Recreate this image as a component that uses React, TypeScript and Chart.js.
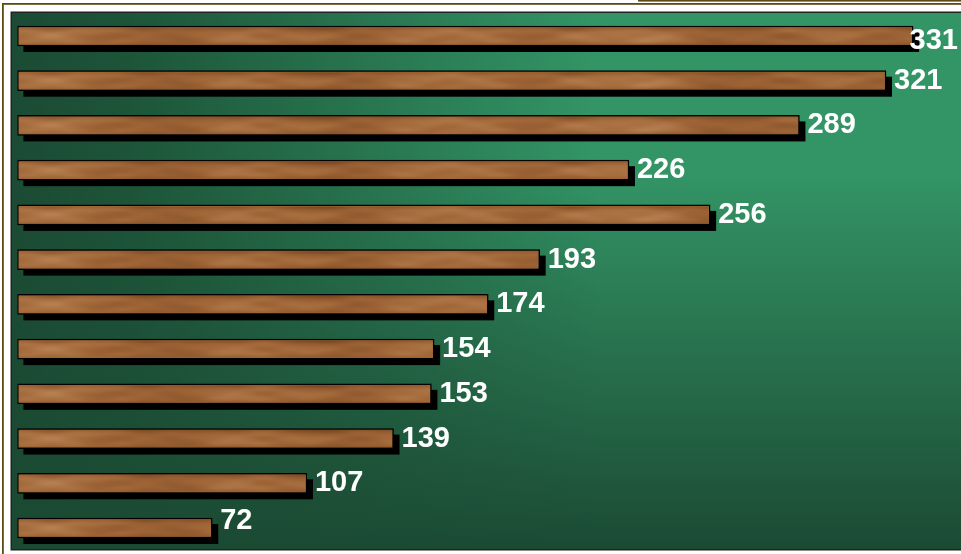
import React, { useEffect, useRef } from "react";
import { Chart, registerables } from "chart.js";

Chart.register(...registerables);

const categories = ["1", "2", "3", "4", "5", "6", "7", "8", "9", "10", "11", "12"];
const values = [331, 321, 289, 226, 256, 193, 174, 154, 153, 139, 107, 72];
const axisMin = 0;
const axisMax = 350;

const CANVAS_W = 975;
const CANVAS_H = 554;

function makeWood(): HTMLCanvasElement {
  const sw = 250, sh = 10;
  const s = document.createElement("canvas");
  s.width = sw;
  s.height = sh;
  const sg = s.getContext("2d")!;
  const img = sg.createImageData(sw, sh);
  const dark = [116, 68, 32];
  const mid = [158, 100, 54];
  const light = [200, 148, 100];
  for (let y = 0; y < sh; y++) {
    for (let x = 0; x < sw; x++) {
      const t = y / (sh - 1);
      const f1 = Math.sin(x * 0.13 + 0.4) * 0.6 + Math.sin(x * 0.047 + 1.9) * 0.4;
      const f2 = Math.sin(x * 0.29 + 2.2) * 0.6 + Math.sin(x * 0.071) * 0.4;
      const f3 = Math.sin(x * 0.53 + 0.7) * 0.5 + Math.sin(x * 0.19 + 3.1) * 0.5;
      let v =
        0.55 +
        0.14 * f1 +
        0.14 * f2 * Math.cos(t * 5.2) +
        0.08 * f3 * Math.sin(t * 9.0 + 0.5);
      if (t < 0.25) v -= 0.3 * (0.25 - t) / 0.25;
      if (t > 0.8) v -= 0.18 * (t - 0.8) / 0.2;
      v = Math.max(0, Math.min(1, v));
      let r, gg, b;
      if (v < 0.5) {
        const k = v / 0.5;
        r = dark[0] + (mid[0] - dark[0]) * k;
        gg = dark[1] + (mid[1] - dark[1]) * k;
        b = dark[2] + (mid[2] - dark[2]) * k;
      } else {
        const k = (v - 0.5) / 0.5;
        r = mid[0] + (light[0] - mid[0]) * k;
        gg = mid[1] + (light[1] - mid[1]) * k;
        b = mid[2] + (light[2] - mid[2]) * k;
      }
      const i = (y * sw + x) * 4;
      img.data[i] = r;
      img.data[i + 1] = gg;
      img.data[i + 2] = b;
      img.data[i + 3] = 255;
    }
  }
  sg.putImageData(img, 0, 0);
  const c = document.createElement("canvas");
  c.width = 1000;
  c.height = 20;
  const g = c.getContext("2d")!;
  g.imageSmoothingEnabled = true;
  g.imageSmoothingQuality = "high";
  g.drawImage(s, 0, 0, 1000, 20);
  return c;
}

export default function App() {
  const ref = useRef<HTMLCanvasElement | null>(null);

  useEffect(() => {
    const canvas = ref.current!;
    const wood = makeWood();

    const framePlugin = {
      id: "frame",
      beforeDraw(chart: any) {
        const ctx = chart.ctx as CanvasRenderingContext2D;
        const W = chart.width, H = chart.height;
        ctx.save();
        ctx.fillStyle = "#ffffff";
        ctx.fillRect(0, 0, W, H);
        ctx.fillStyle = "#5c4a14";
        ctx.fillRect(2, 3, W, 1.8);
        ctx.fillRect(638, 0, W, 1.6);
        ctx.fillRect(2, 3, 1.8, H);
        const x0 = 12, y0 = 13, x1 = W, y1 = 549;
        const hg = ctx.createLinearGradient(x0, 0, 600, 0);
        hg.addColorStop(0, "#1b4b34");
        hg.addColorStop(0.2, "#1d5539");
        hg.addColorStop(1, "#339566");
        ctx.fillStyle = hg;
        ctx.fillRect(x0, y0, x1 - x0, y1 - y0);
        const vg = ctx.createLinearGradient(0, 170, 0, y1);
        vg.addColorStop(0, "rgba(27,74,51,0)");
        vg.addColorStop(1, "rgba(27,74,51,1)");
        ctx.fillStyle = vg;
        ctx.fillRect(x0, y0, x1 - x0, y1 - y0);
        ctx.strokeStyle = "#222222";
        ctx.lineWidth = 1.5;
        ctx.strokeRect(x0 - 0.75, y0 - 0.75, x1 - x0 + 10, y1 - y0 + 1.5);
        ctx.restore();
      },
      beforeDatasetsDraw(chart: any) {
        const ctx = chart.ctx as CanvasRenderingContext2D;
        const meta = chart.getDatasetMeta(0);
        ctx.save();
        ctx.fillStyle = "#000000";
        meta.data.forEach((el: any) => {
          const { x, y, base, height } = el.getProps(["x", "y", "base", "height"], true);
          ctx.fillRect(base + 6, y - height / 2 + 6, x - base, height);
        });
        ctx.restore();
      },
      afterDatasetsDraw(chart: any) {
        const ctx = chart.ctx as CanvasRenderingContext2D;
        const meta = chart.getDatasetMeta(0);
        const area = chart.chartArea;
        ctx.save();
        meta.data.forEach((el: any) => {
          const { x, y, base, height } = el.getProps(["x", "y", "base", "height"], true);
          const top = y - height / 2;
          ctx.save();
          ctx.beginPath();
          ctx.rect(base + 1.5, top + 1.5, x - base - 3, height - 3);
          ctx.clip();
          ctx.drawImage(wood, base, top, wood.width, height);
          ctx.restore();
        });
        ctx.fillStyle = "#ffffff";
        ctx.font = 'bold 29px "Liberation Sans", Arial, sans-serif';
        ctx.textBaseline = "middle";
        ctx.textAlign = "left";
        meta.data.forEach((el: any, i: number) => {
          const { x, y } = el.getProps(["x", "y"], true);
          const text = String(values[i]);
          const tw = ctx.measureText(text).width;
          let tx = x + 8;
          if (tx + tw > 958) tx = 958 - tw;
          const ty = Math.min(Math.max(y, area.top + 27), area.bottom - 29);
          ctx.fillText(text, tx, ty);
        });
        ctx.restore();
      },
    };

    const chart = new Chart(canvas, {
      type: "bar",
      data: {
        labels: categories,
        datasets: [
          {
            data: values,
            backgroundColor: "#a5693a",
            borderColor: "#000000",
            borderWidth: 1.5,
            borderSkipped: false,
            barThickness: 20,
          },
        ],
      },
      options: {
        indexAxis: "y",
        responsive: false,
        animation: false,
        devicePixelRatio: 1,
        layout: { padding: { left: 17.4, right: CANVAS_W - 964.5, top: 13.6, bottom: CANVAS_H - 550.4 } },
        plugins: { legend: { display: false }, tooltip: { enabled: false } },
        scales: {
          x: { display: false, min: axisMin, max: axisMax, grid: { display: false } },
          y: { display: false, grid: { display: false } },
        },
      },
      plugins: [framePlugin],
    });
    return () => chart.destroy();
  }, []);

  return (
    <div style={{ position: "fixed", left: 0, top: 0, width: 961, height: 554, overflow: "hidden", background: "#fff" }}>
      <canvas ref={ref} width={CANVAS_W} height={CANVAS_H} style={{ width: CANVAS_W, height: CANVAS_H, display: "block" }} />
    </div>
  );
}
